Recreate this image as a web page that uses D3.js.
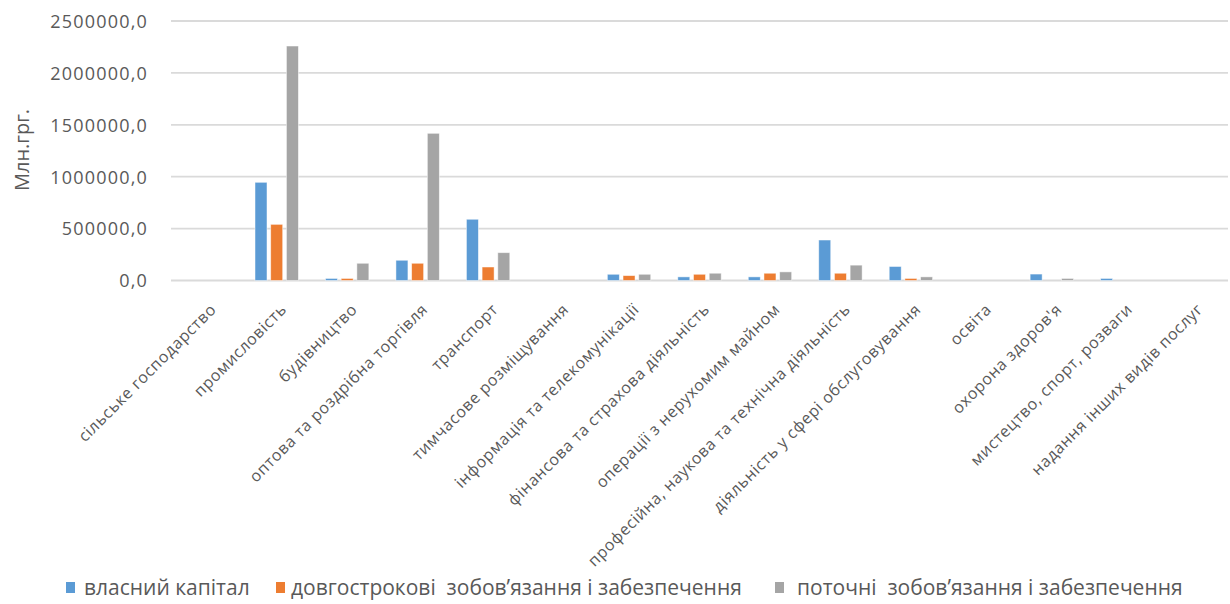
<!DOCTYPE html>
<html lang="uk">
<head>
<meta charset="utf-8">
<script src="https://cdn.jsdelivr.net/npm/d3@7"></script>
<style>
  html, body { margin: 0; padding: 0; background: #fff; }
  svg { display: block; }
  text { font-family: "Open Sans", "Noto Sans", sans-serif; fill: #595959; }
</style>
</head>
<body>
<svg id="chart" width="1230" height="604"></svg>
<script>
// Галузі економіки
const categories = [
  "сільське господарство",
  "промисловість",
  "будівництво",
  "оптова та роздрібна торгівля",
  "транспорт",
  "тимчасове розміщування",
  "інформація та телекомунікації",
  "фінансова та страхова діяльність",
  "операції з нерухомим майном",
  "професійна, наукова та технічна діяльність",
  "діяльність у сфері обслуговування",
  "освіта",
  "охорона здоров'я",
  "мистецтво, спорт, розваги",
  "надання інших видів послуг"
];

// Назви рядів
const seriesNames = [
  "власний капітал",
  "довгострокові  зобов’язання і забезпечення",
  "поточні  зобов’язання і забезпечення"
];

// Значення, млн грн
const ownCapital   = [0, 946000, 20000, 195000, 590000, 0, 60000, 35000, 35000, 390000, 135000, 0, 62000, 20000, 0];
const longTermDebt = [0, 541000, 20000, 166000, 130000, 0, 47000, 60000, 70000, 70000, 20000, 0, 0, 0, 0];
const currentDebt  = [0, 2259000, 166000, 1418000, 268000, 0, 60000, 70000, 83000, 148000, 35000, 0, 20000, 0, 0];

// Поділки осі значень
const yTicks = [0, 500000, 1000000, 1500000, 2000000, 2500000];
const yTitle = "Млн.грг.";

const colors = ["#5B9BD5", "#ED7D31", "#A5A5A5"];
const seriesValues = [ownCapital, longTermDebt, currentDebt];

const svg = d3.select("#chart");

const plot = { left: 171, right: 1228, top: 21, bottom: 280.5 };

const x = d3.scaleBand()
  .domain(categories)
  .range([plot.left, plot.right])
  .paddingInner(0)
  .paddingOuter(0);

const xInner = d3.scaleBand()
  .domain(d3.range(seriesNames.length))
  .range([-23.5, 23.5])
  .paddingInner(0.236)
  .paddingOuter(0.115);

const y = d3.scaleLinear()
  .domain([0, 2500000])
  .range([plot.bottom, plot.top]);

const fmt = v => d3.format(".1f")(v).replace(".", ",");

// Сітка
svg.append("g")
  .selectAll("line")
  .data(yTicks)
  .join("line")
  .attr("x1", plot.left)
  .attr("x2", plot.right)
  .attr("y1", d => y(d))
  .attr("y2", d => y(d))
  .attr("stroke", "#dadada")
  .attr("stroke-width", 1.8);

// Вісь значень
const yAxis = d3.axisLeft(y)
  .tickValues(yTicks)
  .tickFormat(fmt)
  .tickSize(0)
  .tickPadding(0);

svg.append("g")
  .attr("transform", `translate(148,0)`)
  .call(yAxis)
  .call(g => g.select(".domain").remove())
  .call(g => g.selectAll("text")
    .attr("fill", "#595959")
    .style("font-family", "'Open Sans', sans-serif")
    .style("font-size", "18px")
    .style("letter-spacing", "1.2px")
    .attr("dy", "0.35em"));

// Назва осі
svg.append("text")
  .attr("transform", "translate(29,150) rotate(-90)")
  .attr("text-anchor", "middle")
  .style("font-size", "20px")
  .text(yTitle);

// Стовпці
const groups = svg.append("g")
  .selectAll("g")
  .data(seriesValues)
  .join("g")
  .attr("fill", (d, i) => colors[i]);

groups.selectAll("rect")
  .data((vals, si) => vals.map((v, ci) => ({ v, ci, si })))
  .join("rect")
  .attr("x", d => x(categories[d.ci]) + x.bandwidth() / 2 + xInner(d.si))
  .attr("width", xInner.bandwidth())
  .attr("y", d => y(d.v))
  .attr("height", d => y(0) - y(d.v))
  .attr("stroke", "#ffffff")
  .attr("stroke-opacity", 0.6)
  .attr("stroke-width", 0.8);

// Підписи категорій
const xAxis = d3.axisBottom(x).tickSize(0).tickPadding(0);
svg.append("g")
  .attr("transform", `translate(0,${plot.bottom})`)
  .call(xAxis)
  .call(g => g.select(".domain").remove())
  .call(g => g.selectAll("text")
    .attr("fill", "#595959")
    .style("font-family", "'Open Sans', sans-serif")
    .style("font-size", "16px")
    .style("letter-spacing", "0.6px")
    .attr("text-anchor", "end")
    .attr("dy", 0)
    .attr("y", 0)
    .attr("transform", "translate(11,30) rotate(-45)"));

// Легенда
const legendX = [66, 276, 775];
const legendTextX = [84, 291, 797];
const legend = svg.append("g")
  .selectAll("g")
  .data(seriesNames)
  .join("g");

legend.append("rect")
  .attr("x", (d, i) => legendX[i])
  .attr("y", 582)
  .attr("width", 9)
  .attr("height", 11)
  .attr("fill", (d, i) => colors[i]);

legend.append("text")
  .attr("x", (d, i) => legendTextX[i])
  .attr("y", 588)
  .attr("dy", "0.35em")
  .style("font-size", "21px")
  .style("white-space", "pre")
  .text(d => d);
</script>
</body>
</html>
